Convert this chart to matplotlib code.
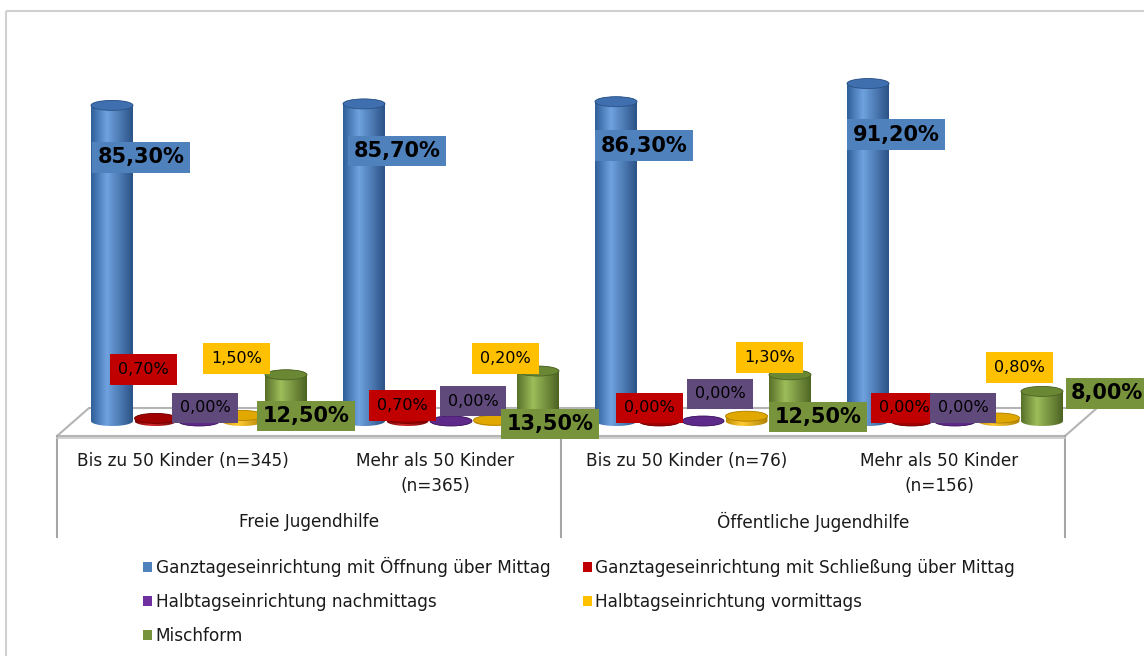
import numpy as np
import matplotlib
matplotlib.use("Agg")
import matplotlib.pyplot as plt
from matplotlib.patches import Ellipse, PathPatch, Patch, Polygon
from matplotlib.path import Path
from matplotlib.colors import LinearSegmentedColormap
from matplotlib.lines import Line2D

# ---------------- data ----------------
groups = ["Freie Jugendhilfe", "Öffentliche Jugendhilfe"]
categories = ["Bis zu 50 Kinder (n=345)", "Mehr als 50 Kinder\n(n=365)",
              "Bis zu 50 Kinder (n=76)", "Mehr als 50 Kinder\n(n=156)"]
series = ["Ganztageseinrichtung mit Öffnung über Mittag",
          "Ganztageseinrichtung mit Schließung über Mittag",
          "Halbtagseinrichtung nachmittags",
          "Halbtagseinrichtung vormittags",
          "Mischform"]
ganztag_offen = [85.3, 85.7, 86.3, 91.2]
ganztag_geschl = [0.7, 0.7, 0.0, 0.0]
halbtag_nachm = [0.0, 0.0, 0.0, 0.0]
halbtag_vorm = [1.5, 0.2, 1.3, 0.8]
mischform = [12.5, 13.5, 12.5, 8.0]
values = [ganztag_offen, ganztag_geschl, halbtag_nachm, halbtag_vorm, mischform]

# ---------------- style ----------------
W, H = 1144, 656
PX_X = 252.0      # pixels per category
PX_Y = 3.70       # pixels per percent
X0_PX, Y0_PX = 112.0, 421.0
bar_step = 43.5 / PX_X
bar_w = 42 / PX_X
ell_h = 10 / PX_Y

legend_colors = ["#4F81BD", "#C00000", "#7030A0", "#FFC000", "#77933C"]
label_box = ["#4F81BD", "#C00000", "#604A7B", "#FFC000", "#77933C"]
grad_cols = [("#2F5E98", "#6FA2DF", "#2A5286"),
             ("#7A0000", "#D42A2A", "#700000"),
             ("#46196A", "#8E50C4", "#3E155F"),
             ("#C08C00", "#FFCB35", "#B08000"),
             ("#586F28", "#9DBD5A", "#4C6222")]
top_cols = ["#3F6FAE", "#A00000", "#5E2A8A", "#E0A800", "#6A8734"]
bold_series = [True, False, False, False, True]

# label offsets (pixels) relative to bar top centre
label_dx = [[29, 33, 28, 28],
            [-12, -5, -10, -7],
            [6, 22, 17, 8],
            [-6, 11, 23, 21],
            [20, 12, 28, 65]]
label_dy = [[-52, -47, -44, -51],
            [49, 13, 13, 13],
            [13, 20, 27, 13],
            [57, 62, 59, 51],
            [-41, -53, -42, -2]]

TXT = "#1A1A1A"
FS = 12.2

fig = plt.figure(figsize=(W / 100, H / 100), dpi=100)
ax = fig.add_axes([0, 0, 1, 1])
ax.set_axis_off()
xlim = ((0 - X0_PX) / PX_X, (W - X0_PX) / PX_X)
ylim = ((Y0_PX - H) / PX_Y, Y0_PX / PX_Y)


def py(v_px):
    return (Y0_PX - v_px) / PX_Y


# floor
mid_l = (73 - X0_PX) / PX_X
mid_r = (1081 - X0_PX) / PX_X
ddx = 16 / PX_X
y_front, y_back = py(436), py(408)
floor = Polygon([(mid_l - ddx, y_front), (mid_r - ddx, y_front),
                 (mid_r + ddx, y_back), (mid_l + ddx, y_back)],
                closed=True, fc="white", ec="#B4B4B4", lw=1.5, zorder=1)
ax.add_patch(floor)
ax.plot([mid_l - ddx, mid_r - ddx], [y_front - 0.6, y_front - 0.6],
        color="#C8C8C8", lw=1.2, zorder=1.1)

# category axis box
y_bottom = py(537)
cat_w = (mid_r - mid_l) / 4
for k in [0, 2, 4]:
    xv = mid_l - ddx + k * cat_w
    ax.plot([xv, xv], [y_front, y_bottom], color="#A6A6A6", lw=1.5, zorder=1)
for i, c in enumerate(categories):
    xc = mid_l - ddx + (i + 0.5) * cat_w
    ax.text(xc, py(452), c, ha="center", va="top", fontsize=FS,
            color=TXT, linespacing=1.5, multialignment="center")
for j, g in enumerate(groups):
    xc = mid_l - ddx + (2 * j + 1) * cat_w
    ax.text(xc, py(522), g, ha="center", va="center", fontsize=FS, color=TXT)

# cylinders
grad = np.linspace(0, 1, 256).reshape(1, -1)
for s, vals in enumerate(values):
    cmap = LinearSegmentedColormap.from_list(
        "c%d" % s, [(0, grad_cols[s][0]), (0.38, grad_cols[s][1]), (1, grad_cols[s][2])])
    for g, v in enumerate(vals):
        xc = g + s * bar_step
        z = 3 + g * 5 + s
        t = np.linspace(np.pi, 2 * np.pi, 50)
        bottom = np.column_stack([xc + bar_w / 2 * np.cos(t), ell_h / 2 * np.sin(t)])
        t2 = np.linspace(0, np.pi, 50)
        top = np.column_stack([xc + bar_w / 2 * np.cos(t2), v + ell_h / 2 * np.sin(t2)])
        verts = np.vstack([bottom, top, bottom[:1]])
        patch = PathPatch(Path(verts, closed=True), fc="none", ec="none", zorder=z)
        ax.add_patch(patch)
        im = ax.imshow(grad, extent=[xc - bar_w / 2, xc + bar_w / 2, -ell_h / 2, v + ell_h / 2],
                       aspect="auto", cmap=cmap, origin="lower", zorder=z,
                       interpolation="bilinear")
        im.set_clip_path(patch)
        ax.add_patch(Ellipse((xc, v), bar_w, ell_h, fc=top_cols[s],
                             ec=grad_cols[s][2], lw=0.6, zorder=z + 0.5))

# data labels
for s, vals in enumerate(values):
    for g, v in enumerate(vals):
        xc = g + s * bar_step
        txt = ("%.2f%%" % v).replace(".", ",")
        if bold_series[s]:
            fs, fw, pad = 15, "bold", 0.25
        else:
            fs, fw, pad = 11.5, "normal", 0.5
        ax.annotate(txt, (xc, v), xytext=(label_dx[s][g], label_dy[s][g]),
                    textcoords="offset pixels", ha="center", va="center",
                    fontsize=fs, fontweight=fw, color="black", zorder=40,
                    bbox=dict(boxstyle="square,pad=%.2f" % pad, fc=label_box[s], ec="none"))

ax.set_xlim(*xlim)
ax.set_ylim(*ylim)

# legend
order = [0, 2, 4, 1, 3]
handles = [Patch(fc=legend_colors[i], ec="none") for i in order]
labels = [series[i] for i in order]
fig.legend(handles, labels, ncol=2, loc="upper left",
           bbox_to_anchor=(143 / W, 1 - 557 / H), frameon=False,
           fontsize=FS, handlelength=0.55, handleheight=0.55, handletextpad=0.2,
           labelspacing=0.95, columnspacing=1.9, borderpad=0, borderaxespad=0,
           labelcolor=TXT)

# outer border
fig.add_artist(Line2D([5.5 / W, 1], [1 - 10.5 / H, 1 - 10.5 / H],
                      color="#D0D0D0", lw=1.5, transform=fig.transFigure,
                      solid_capstyle="butt"))
fig.add_artist(Line2D([5.5 / W, 5.5 / W], [1 - 10.5 / H, 0],
                      color="#D0D0D0", lw=1.5, transform=fig.transFigure,
                      solid_capstyle="butt"))

fig.savefig("out.png", dpi=100)
